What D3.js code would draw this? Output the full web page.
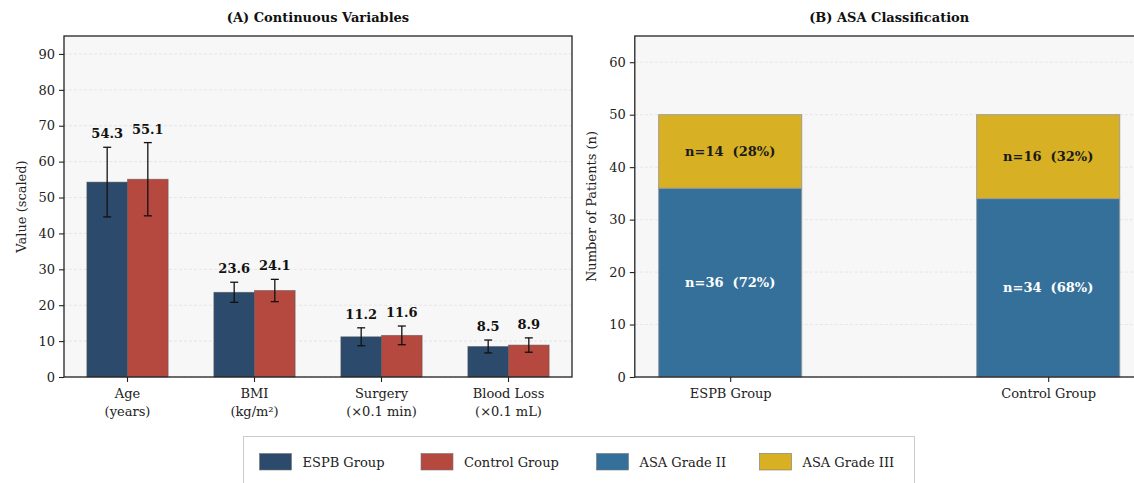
<!DOCTYPE html>
<html>
<head>
<meta charset="utf-8">
<script src="https://cdn.jsdelivr.net/npm/d3@7"></script>
<style>
  html, body { margin: 0; padding: 0; background: #ffffff; }
  svg { display: block; font-family: "DejaVu Serif", serif; }
</style>
</head>
<body>
<svg id="fig" width="1134" height="483"></svg>
<script>
// ---- Data ----
const categories = ["Age", "BMI", "Surgery", "Blood Loss"];
const categoryUnits = ["(years)", "(kg/m²)", "(×0.1 min)", "(×0.1 mL)"];
const espbMeans = [54.3, 23.6, 11.2, 8.5];
const espbSD = [9.7, 2.8, 2.5, 1.8];
const controlMeans = [55.1, 24.1, 11.6, 8.9];
const controlSD = [10.2, 3.1, 2.6, 2.0];

const groups = ["ESPB Group", "Control Group"];
const asaGrade2 = [36, 34];
const asaGrade3 = [14, 16];

const yTicksA = [0, 10, 20, 30, 40, 50, 60, 70, 80, 90];
const yTicksB = [0, 10, 20, 30, 40, 50, 60];

const legendLabels = ["ESPB Group", "Control Group", "ASA Grade II", "ASA Grade III"];

// ---- Styles ----
const C = {
  espb: "#2c4a6b",
  control: "#b5483f",
  asa2: "#35709a",
  asa3: "#d7b123",
  panel: "#f7f7f7",
  grid: "#dedede",
  spine: "#222222",
  text: "#222222"
};

const svg = d3.select("#fig");

// ================= Panel A: continuous variables =================
const A = { left: 64, right: 572, top: 36, bottom: 377 };
const xA = d3.scaleBand().domain(categories).range([A.left, A.right]).padding(0);
const yA = d3.scaleLinear().domain([0, 95]).range([A.bottom, A.top]);
const barW = xA.bandwidth() * 0.32;

const gA = svg.append("g");
gA.append("rect").attr("x", A.left).attr("y", A.top)
  .attr("width", A.right - A.left).attr("height", A.bottom - A.top).attr("fill", C.panel);

// horizontal grid
gA.selectAll("line.grid").data(yTicksA).enter().append("line")
  .attr("x1", A.left).attr("x2", A.right)
  .attr("y1", d => yA(d)).attr("y2", d => yA(d))
  .attr("stroke", C.grid).attr("stroke-width", 0.7).attr("stroke-dasharray", "3,2");

const seriesA = [
  { means: espbMeans, sd: espbSD, color: C.espb, off: -1 },
  { means: controlMeans, sd: controlSD, color: C.control, off: 0 }
];

seriesA.forEach(s => {
  const cx = (c) => xA(c) + xA.bandwidth() / 2 + s.off * barW;
  gA.append("g").selectAll("rect").data(categories).enter().append("rect")
    .attr("x", (c) => cx(c))
    .attr("y", (c, i) => yA(s.means[i]))
    .attr("width", barW)
    .attr("height", (c, i) => yA(0) - yA(s.means[i]))
    .attr("fill", s.color)
    .attr("stroke", "#555").attr("stroke-opacity", 0.6).attr("stroke-width", 0.8);

  const eb = gA.append("g").attr("stroke", "#111").attr("stroke-width", 1.3);
  categories.forEach((c, i) => {
    const x = cx(c) + barW / 2;
    const top = yA(s.means[i] + s.sd[i]);
    const bot = yA(s.means[i] - s.sd[i]);
    eb.append("line").attr("x1", x).attr("x2", x).attr("y1", top).attr("y2", bot);
    eb.append("line").attr("x1", x - 4).attr("x2", x + 4).attr("y1", top).attr("y2", top);
    eb.append("line").attr("x1", x - 4).attr("x2", x + 4).attr("y1", bot).attr("y2", bot);
    gA.append("text")
      .attr("x", x).attr("y", top - 9)
      .attr("text-anchor", "middle")
      .attr("font-size", 13).attr("font-weight", "bold").attr("fill", "#111")
      .text(s.means[i].toFixed(1));
  });
});

// axes
gA.append("g").attr("transform", `translate(${A.left},0)`)
  .call(d3.axisLeft(yA).tickValues(yTicksA).tickSize(5).tickPadding(4));
const axAx = gA.append("g").attr("transform", `translate(0,${A.bottom})`)
  .call(d3.axisBottom(xA).tickSize(5).tickPadding(4).tickFormat(() => ""));
axAx.selectAll(".tick text").each(function(d, i) {
  const t = d3.select(this);
  t.append("tspan").attr("x", 0).attr("dy", "0.95em").text(d);
  t.append("tspan").attr("x", 0).attr("dy", "1.36em").text(categoryUnits[i]);
});

// spines
gA.append("rect").attr("x", A.left).attr("y", A.top)
  .attr("width", A.right - A.left).attr("height", A.bottom - A.top)
  .attr("fill", "none").attr("stroke", C.spine).attr("stroke-width", 1.3);

gA.append("text")
  .attr("transform", `translate(22,${(A.top + A.bottom) / 2}) rotate(-90)`)
  .attr("text-anchor", "middle").attr("dominant-baseline", "middle")
  .attr("font-size", 13).attr("fill", C.text).text("Value (scaled)");

gA.append("text")
  .attr("x", (A.left + A.right) / 2).attr("y", 22)
  .attr("text-anchor", "middle").attr("font-size", 13).attr("font-weight", "bold")
  .attr("fill", "#111").text("(A) Continuous Variables");

// ================= Panel B: ASA classification =================
const B = { left: 634.8, right: 1143.6, top: 36, bottom: 377 };
const xB = d3.scaleLinear().domain([-0.3, 1.3]).range([B.left, B.right]);
const yB = d3.scaleLinear().domain([0, 65]).range([B.bottom, B.top]);
const barWB = xB(0.45) - xB(0);

const gB = svg.append("g");
gB.append("rect").attr("x", B.left).attr("y", B.top)
  .attr("width", B.right - B.left).attr("height", B.bottom - B.top).attr("fill", C.panel);

gB.selectAll("line.grid").data(yTicksB).enter().append("line")
  .attr("x1", B.left).attr("x2", B.right)
  .attr("y1", d => yB(d)).attr("y2", d => yB(d))
  .attr("stroke", C.grid).attr("stroke-width", 0.7).attr("stroke-dasharray", "3,2");

const stackData = groups.map((g, i) => ({ g, i, ii: asaGrade2[i], iii: asaGrade3[i] }));

stackData.forEach(d => {
  const total = d.ii + d.iii;
  const x = xB(d.i) - barWB / 2;
  // Grade II segment
  gB.append("rect").attr("x", x).attr("y", yB(d.ii))
    .attr("width", barWB).attr("height", yB(0) - yB(d.ii))
    .attr("fill", C.asa2).attr("stroke", "#999").attr("stroke-width", 0.9);
  // Grade III segment
  gB.append("rect").attr("x", x).attr("y", yB(total))
    .attr("width", barWB).attr("height", yB(d.ii) - yB(total))
    .attr("fill", C.asa3).attr("stroke", "#999").attr("stroke-width", 0.9);

  gB.append("text").attr("x", xB(d.i)).attr("y", yB(d.ii / 2))
    .attr("text-anchor", "middle").attr("dominant-baseline", "central")
    .attr("font-size", 13).attr("font-weight", "bold").attr("fill", "#ffffff")
    .style("white-space", "pre")
    .text(`n=${d.ii}  (${Math.round(d.ii / total * 100)}%)`);
  gB.append("text").attr("x", xB(d.i)).attr("y", yB(d.ii + d.iii / 2))
    .attr("text-anchor", "middle").attr("dominant-baseline", "central")
    .attr("font-size", 13).attr("font-weight", "bold").attr("fill", "#1a1a1a")
    .style("white-space", "pre")
    .text(`n=${d.iii}  (${Math.round(d.iii / total * 100)}%)`);
});

gB.append("g").attr("transform", `translate(${B.left},0)`)
  .call(d3.axisLeft(yB).tickValues(yTicksB).tickSize(5).tickPadding(4));
const axBx = gB.append("g").attr("transform", `translate(0,${B.bottom})`)
  .call(d3.axisBottom(xB).tickValues([0, 1]).tickSize(5).tickPadding(4).tickFormat(i => groups[i]));
axBx.selectAll(".tick text").attr("dy", "0.95em");

gB.append("rect").attr("x", B.left).attr("y", B.top)
  .attr("width", B.right - B.left).attr("height", B.bottom - B.top)
  .attr("fill", "none").attr("stroke", C.spine).attr("stroke-width", 1.3);

gB.append("text")
  .attr("transform", `translate(592,${(B.top + B.bottom) / 2}) rotate(-90)`)
  .attr("text-anchor", "middle").attr("dominant-baseline", "middle")
  .attr("font-size", 13).attr("fill", C.text).text("Number of Patients (n)");

gB.append("text")
  .attr("x", (B.left + B.right) / 2).attr("y", 22)
  .attr("text-anchor", "middle").attr("font-size", 13).attr("font-weight", "bold")
  .attr("fill", "#111").text("(B) ASA Classification");

// common axis styling
svg.selectAll(".domain").remove();
svg.selectAll(".tick line").attr("stroke", C.spine).attr("stroke-width", 1.1);
svg.selectAll(".tick text").attr("font-size", 13).attr("fill", C.text)
  .attr("font-family", "DejaVu Serif");

// ================= Legend =================
const legendColors = [C.espb, C.control, C.asa2, C.asa3];
const legendX = [259.5, 421, 596.5, 759.5];
const lg = svg.append("g");
lg.append("rect").attr("x", 243.5).attr("y", 436.5).attr("width", 671).attr("height", 52)
  .attr("fill", "#ffffff").attr("stroke", "#cccccc").attr("stroke-width", 1);
legendLabels.forEach((lab, i) => {
  lg.append("rect").attr("x", legendX[i]).attr("y", 453.5).attr("width", 32).attr("height", 16.5)
    .attr("fill", legendColors[i]).attr("stroke", "#777").attr("stroke-width", 0.6);
  lg.append("text").attr("x", legendX[i] + 43).attr("y", 462)
    .attr("dominant-baseline", "central").attr("font-size", 13).attr("fill", C.text)
    .text(lab);
});
</script>
</body>
</html>
